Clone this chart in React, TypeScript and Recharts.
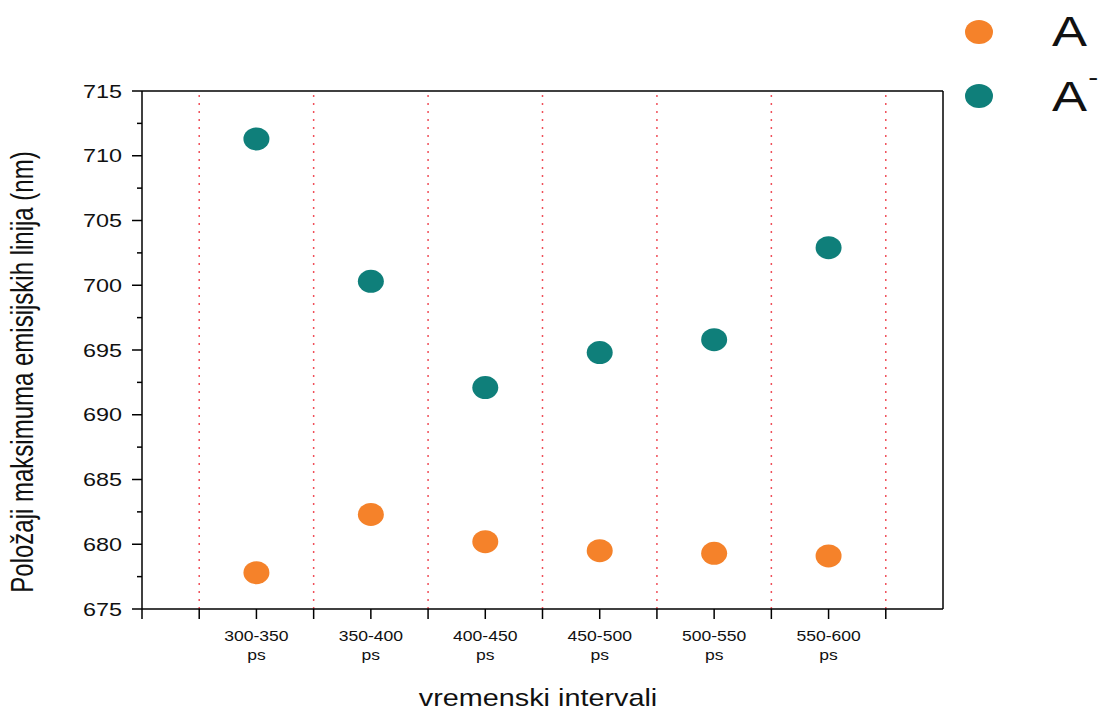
import {
  Label,
  ReferenceLine,
  Scatter,
  ScatterChart,
  XAxis,
  YAxis,
} from 'recharts';

const intervals = ['300-350', '350-400', '400-450', '450-500', '500-550', '550-600'];
const seriesA = [677.8, 682.3, 680.2, 679.5, 679.3, 679.1];
const seriesAminus = [711.3, 700.3, 692.1, 694.8, 695.8, 702.9];

const yMajorTicks = [675, 680, 685, 690, 695, 700, 705, 710, 715];
const yMinorTicks = [677.5, 682.5, 687.5, 692.5, 697.5, 702.5, 707.5, 712.5];
const xMinorTicks = [-1, -0.5, 0.5, 1.5, 2.5, 3.5, 4.5, 5.5];
const separators = [-0.5, 0.5, 1.5, 2.5, 3.5, 4.5, 5.5];

const ORANGE = '#f5822a';
const TEAL = '#0f7f7a';
const FONT = '"Liberation Sans", Arial, sans-serif';

const dataA = intervals.map((_, i) => ({ x: i, y: seriesA[i] }));
const dataAminus = intervals.map((_, i) => ({ x: i, y: seriesAminus[i] }));
const xTicks = [...xMinorTicks, ...intervals.map((_, i) => i)].sort((a, b) => a - b);
const yTicks = [...yMajorTicks, ...yMinorTicks].sort((a, b) => a - b);

// the source picture is stretched sideways, so text gets a horizontal scale
const Stretched = ({ x, y, sx = 1.3, rotate = 0, anchor = 'start', size, children }: any) => (
  <text
    x={0}
    y={0}
    transform={`translate(${x} ${y}) scale(${sx} 1)${rotate ? ` rotate(${rotate})` : ''}`}
    textAnchor={anchor}
    fontSize={size}
    fill="#111"
    fontFamily={FONT}
  >
    {children}
  </text>
);

const makeDot = (color: string) => (props: any) => {
  if (props.cx == null || props.cy == null) return <g />;
  return <ellipse cx={props.cx} cy={props.cy} rx={13} ry={11.5} fill={color} />;
};

const YTick = (props: any) => {
  const { x, y, payload } = props;
  const major = yMajorTicks.includes(payload.value);
  return (
    <g>
      <line x1={x} x2={x - (major ? 10 : 5)} y1={y} y2={y} stroke="#000" strokeWidth={1.5} />
      {major && (
        <Stretched x={x - 20} y={y + 6.5} anchor="end" size={18} sx={1.3}>
          {payload.value}
        </Stretched>
      )}
    </g>
  );
};

const XTick = (props: any) => {
  const { x, y, payload } = props;
  const label = Number.isInteger(payload.value) ? intervals[payload.value] : null;
  return (
    <g>
      <line x1={x} x2={x} y1={y} y2={y + 10} stroke="#000" strokeWidth={1.5} />
      {label && (
        <>
          <Stretched x={x} y={y + 32} anchor="middle" size={15} sx={1.17}>{label}</Stretched>
          <Stretched x={x} y={y + 51} anchor="middle" size={15} sx={1.17}>ps</Stretched>
        </>
      )}
    </g>
  );
};

const XTitle = (props: any) => {
  const { viewBox } = props;
  return (
    <Stretched x={viewBox.x + 396} y={viewBox.y + 97} anchor="middle" size={24} sx={1.2}>
      vremenski intervali
    </Stretched>
  );
};

const YTitle = (props: any) => {
  const { viewBox } = props;
  return (
    <Stretched x={viewBox.x + 21} y={viewBox.y + 281} anchor="middle" size={24} sx={1.3} rotate={-90}>
      Položaji maksimuma emisijskih linija (nm)
    </Stretched>
  );
};

const ChartLegend = () => (
  <svg width={161} height={130} style={{ position: 'absolute', top: 0, left: 940 }}>
    <ellipse cx={39} cy={32} rx={14} ry={12} fill={ORANGE} />
    <Stretched x={112} y={46} size={42} sx={1.25}>A</Stretched>
    <ellipse cx={39} cy={96} rx={14} ry={12} fill={TEAL} />
    <Stretched x={112} y={111} size={42} sx={1.25}>
      A<tspan dx={1} dy={-26} fontSize={24}>-</tspan>
    </Stretched>
  </svg>
);

export default function App() {
  return (
    <div style={{ position: 'fixed', top: 0, left: 0, width: 1101, height: 713, background: '#fff' }}>
      <ScatterChart width={1101} height={713} margin={{ top: 91, right: 158, bottom: 4, left: 12 }}>
        <XAxis
          type="number"
          dataKey="x"
          domain={[-1, 6]}
          ticks={xTicks}
          interval={0}
          tick={XTick}
          tickLine={false}
          tickSize={0}
          tickMargin={0}
          height={100}
          axisLine={{ stroke: '#000', strokeWidth: 1.5 }}
          allowDataOverflow
        >
          <Label content={XTitle} />
        </XAxis>
        <YAxis
          type="number"
          dataKey="y"
          domain={[675, 715]}
          ticks={yTicks}
          interval={0}
          tick={YTick}
          tickLine={false}
          tickSize={0}
          tickMargin={0}
          width={130}
          axisLine={{ stroke: '#000', strokeWidth: 1.5 }}
          allowDataOverflow
        >
          <Label content={YTitle} />
        </YAxis>
        {separators.map((s) => (
          <ReferenceLine key={s} x={s} stroke="#f0505a" strokeDasharray="2 6" strokeWidth={1.5} />
        ))}
        <ReferenceLine y={715} stroke="#000" strokeWidth={1.5} />
        <ReferenceLine x={6} stroke="#000" strokeWidth={1.5} />
        <Scatter name="A" data={dataA} fill={ORANGE} shape={makeDot(ORANGE)} isAnimationActive={false} />
        <Scatter name="A-" data={dataAminus} fill={TEAL} shape={makeDot(TEAL)} isAnimationActive={false} />
      </ScatterChart>
      <ChartLegend />
    </div>
  );
}
